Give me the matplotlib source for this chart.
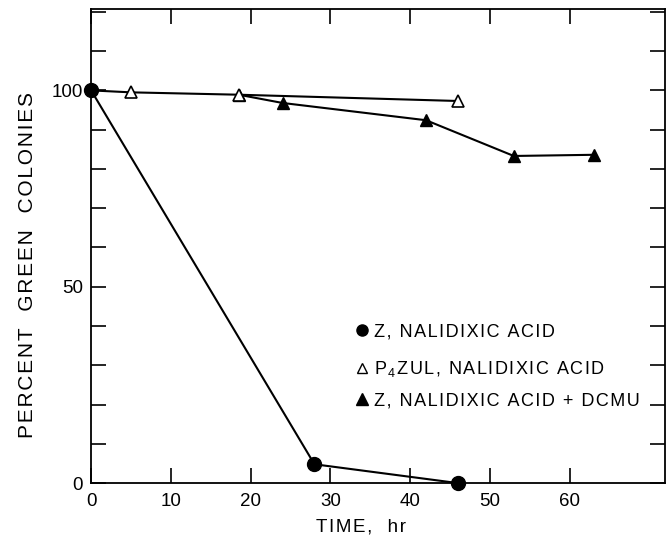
import matplotlib
matplotlib.use("Agg")
import matplotlib.pyplot as plt
from matplotlib.ticker import MultipleLocator, FuncFormatter

plt.rcParams['font.family'] = ['Liberation Sans', 'DejaVu Sans']
plt.rcParams['mathtext.default'] = 'regular'

# Data
z_time = [0, 28, 46]
z_pct = [100, 4.8, 0]
p4_time = [0, 5, 18.5, 46]
p4_pct = [100, 99.5, 98.9, 97.3]
dcmu_time = [18.5, 24, 42, 53, 63]
dcmu_pct = [98.9, 96.8, 92.4, 83.3, 83.6]

legend_labels = [["Z, NALIDIXIC ACID"],
                 ["P", "$_4$", "ZUL, NALIDIXIC ACID"],
                 ["Z, NALIDIXIC ACID + DCMU"]]
x_ticks = [0, 10, 20, 30, 40, 50, 60]
y_labeled = [0, 50, 100]

HS = '\u200a'


def spaced(parts):
    out = []
    for p in parts:
        if p.startswith('$'):
            out.append(p)
        else:
            out.append(HS.join(p))
    return HS.join(out)


fig = plt.figure(figsize=(6.7, 5.35), dpi=100)
ax = fig.add_axes([0.136, 0.097, 0.857, 0.886])

lw = 1.5
ax.plot(dcmu_time, dcmu_pct, color='black', lw=lw, marker='^', ms=9,
        mfc='black', mec='black', zorder=3)
ax.plot(p4_time[1:], p4_pct[1:], color='black', lw=lw, marker='^', ms=9,
        mfc='white', mec='black', mew=1.2, zorder=4)
ax.plot(p4_time[:2], p4_pct[:2], color='black', lw=lw, zorder=2)
ax.plot(z_time, z_pct, color='black', lw=lw, marker='o', ms=10,
        mfc='black', mec='black', zorder=5, clip_on=False)

ax.set_xlim(0, 72)
ax.set_ylim(0, 120.7)

ax.set_xticks(x_ticks)
ax.yaxis.set_major_locator(MultipleLocator(10))
ax.yaxis.set_major_formatter(FuncFormatter(
    lambda v, p: f"{int(round(v))}" if int(round(v)) in y_labeled else ""))

ax.tick_params(axis='both', which='both', direction='in', length=11, width=1.2,
               top=True, right=True, labelsize=13.5)
ax.tick_params(axis='x', pad=7)
ax.tick_params(axis='y', pad=6)
for s in ax.spines.values():
    s.set_linewidth(1.3)

ax.set_xlabel(spaced(["TIME,  hr"]), fontsize=13.5)
ax.xaxis.set_label_coords(0.47, -0.074)
ax.set_ylabel(spaced(["PERCENT  GREEN  COLONIES"]), fontsize=15)
ax.yaxis.set_label_coords(-0.094, 0.46)

# Legend drawn inside the axes
rows_y = [0.323, 0.2434, 0.1767]
styles = [dict(marker='o', mfc='black', mec='black', ms=8),
          dict(marker='^', mfc='white', mec='black', ms=7, mew=1),
          dict(marker='^', mfc='black', mec='black', ms=8)]
for yy, lab, st in zip(rows_y, legend_labels, styles):
    ax.plot([0.4716], [yy], transform=ax.transAxes, ls='none', clip_on=False, **st)
    ax.text(0.4918, yy - 0.0135, spaced(lab), transform=ax.transAxes, fontsize=13,
            va='baseline', ha='left')

fig.savefig("out.png", dpi=100)
